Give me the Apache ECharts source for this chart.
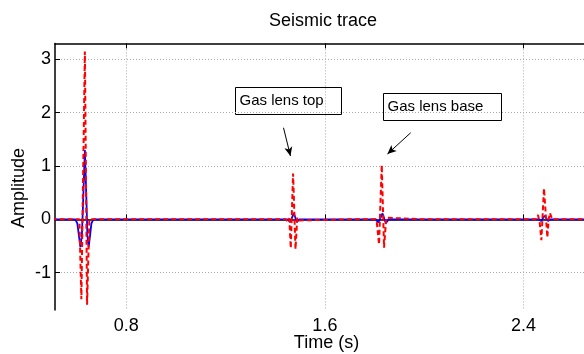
<!DOCTYPE html>
<html>
<head>
<meta charset="utf-8">
<script src="https://cdn.jsdelivr.net/npm/echarts@6/dist/echarts.min.js"></script>
<style>
  html, body { margin: 0; padding: 0; background: #fff; }
  #chart { width: 584px; height: 354px; }
</style>
</head>
<body>
<div id="chart"></div>
<script>
// ticks
const xTicks = [0.8, 1.6, 2.4];
const yTicks = [-1, 0, 1, 2, 3];

// red dashed trace
const redTime = [0.50, 0.6112, 0.6192, 0.6333, 0.6422, 0.6514, 1.0, 1.4,
  1.4425, 1.4506, 1.4566, 1.4626, 1.4719, 1.4816, 1.4888, 1.4949, 1.5029, 1.7,
  1.8048, 1.8089, 1.8181, 1.8290, 1.8383, 1.8471, 1.8531, 2.0, 2.2, 2.4,
  2.4490, 2.4582, 2.4650, 2.4719, 2.4824, 2.4960, 2.5013, 2.5065, 2.5154, 2.70];
const redAmp = [0, 0, -1.5, 3.15, -1.6, 0, 0, 0,
  0, -0.04, 0.02, -0.54, 0.86, -0.56, 0.03, -0.02, 0, 0,
  0, -0.05, -0.47, 1.02, -0.53, 0.03, 0, 0, 0, 0,
  0, 0.08, -0.05, -0.39, 0.58, -0.34, 0, 0.12, 0, 0];

// blue solid trace
const blueTime = [0.50, 0.5951, 0.6031, 0.6092, 0.6152, 0.6213, 0.6253, 0.6333,
  0.6406, 0.6434, 0.6486, 0.6543, 0.6595, 0.6675, 1.0, 1.4,
  1.4506, 1.4606, 1.4747, 1.4868, 1.4969, 1.7,
  1.8048, 1.8149, 1.8322, 1.8451, 1.8572, 2.0, 2.2, 2.4,
  2.4610, 2.4710, 2.4851, 2.4992, 2.5093, 2.70];
const blueAmp = [0, 0, -0.08, -0.3, -0.52, -0.3, 0.2, 1.3,
  0.2, -0.3, -0.52, -0.3, -0.08, 0, 0, 0,
  0, -0.05, 0.12, -0.05, 0, 0,
  0, -0.06, 0.11, -0.07, 0, 0, 0, 0,
  0, -0.03, 0.07, -0.03, 0, 0];

// annotation arrows [from, to] in data units
const arrows = [
  [[1.4333, 1.7186], [1.4614, 1.1876]],
  [[1.9457, 1.6248], [1.8519, 1.2251]]
];

const font = 'Liberation Sans, Arial, sans-serif';
const chart = echarts.init(document.getElementById('chart'));

const zip = (xs, ys) => xs.map((x, i) => [x, ys[i]]);

const baseX = {
  type: 'value', min: 0.513, max: 2.7,
  axisLine: { show: true, lineStyle: { color: '#000', width: 1.5 } },
  axisTick: { show: true, inside: true, length: 5, customValues: xTicks, lineStyle: { color: '#000' } }
};

chart.setOption({
  animation: false,
  title: {
    text: 'Seismic trace', left: 269, top: 12, padding: 0,
    textStyle: { fontFamily: font, fontSize: 18, fontWeight: 'normal', color: '#000' }
  },
  grid: { left: 55, right: -14, top: 43.4, bottom: 44, outerBoundsMode: 'none', containLabel: false },
  xAxis: [
    Object.assign({}, baseX, {
      position: 'bottom',
      axisLabel: { customValues: xTicks, formatter: v => v.toFixed(1), fontFamily: font, fontSize: 18, color: '#000', margin: 7 },
      splitLine: { show: true, lineStyle: { color: '#aaa', type: [1, 2], width: 1 } },
      name: 'Time (s)', nameLocation: 'middle', nameGap: 24, nameMoveOverlap: false,
      nameTextStyle: { fontFamily: font, fontSize: 18, color: '#000' }
    }),
    Object.assign({}, baseX, {
      position: 'top',
      axisLabel: { show: false },
      splitLine: { show: false }
    })
  ],
  yAxis: {
    type: 'value', min: -1.7, max: 3.3,
    axisLine: { show: true, lineStyle: { color: '#000', width: 1.5 } },
    axisTick: { show: true, inside: true, length: 5, customValues: yTicks, lineStyle: { color: '#000' } },
    axisLabel: { customValues: yTicks, fontFamily: font, fontSize: 18, color: '#000', margin: 4 },
    splitLine: { show: true, lineStyle: { color: '#aaa', type: [1, 2], width: 1 } }
  },
  series: [
    {
      name: 'smooth', type: 'line', data: zip(blueTime, blueAmp),
      showSymbol: false, symbol: 'none',
      lineStyle: { color: '#0000ff', width: 1.8 },
      markLine: {
        silent: true, symbol: ['none', 'arrow'], symbolSize: [6, 9],
        lineStyle: { color: '#000', type: 'solid', width: 1 },
        label: { show: false },
        data: arrows.map(a => [{ coord: a[0] }, { coord: a[1] }])
      }
    },
    {
      name: 'sharp', type: 'line', data: zip(redTime, redAmp),
      showSymbol: false, symbol: 'none',
      lineStyle: { color: '#ff0000', width: 2, type: [5, 3] }
    }
  ],
  graphic: [
    {
      type: 'text', x: 19, y: 188, rotation: Math.PI / 2,
      style: { text: 'Amplitude', font: '18px ' + font, fill: '#000', align: 'center', verticalAlign: 'middle' }
    },
    {
      type: 'group', left: 235, top: 87,
      children: [
        { type: 'rect', shape: { x: 0, y: 0, width: 106, height: 27 }, style: { fill: '#fff', stroke: '#000', lineWidth: 1 } },
        { type: 'text', x: 4, y: 13.5, style: { text: 'Gas lens top', font: '15px ' + font, fill: '#000', verticalAlign: 'middle' } }
      ]
    },
    {
      type: 'group', left: 383, top: 93,
      children: [
        { type: 'rect', shape: { x: 0, y: 0, width: 118, height: 27 }, style: { fill: '#fff', stroke: '#000', lineWidth: 1 } },
        { type: 'text', x: 4, y: 13.5, style: { text: 'Gas lens base', font: '15px ' + font, fill: '#000', verticalAlign: 'middle' } }
      ]
    }
  ]
});
</script>
</body>
</html>
